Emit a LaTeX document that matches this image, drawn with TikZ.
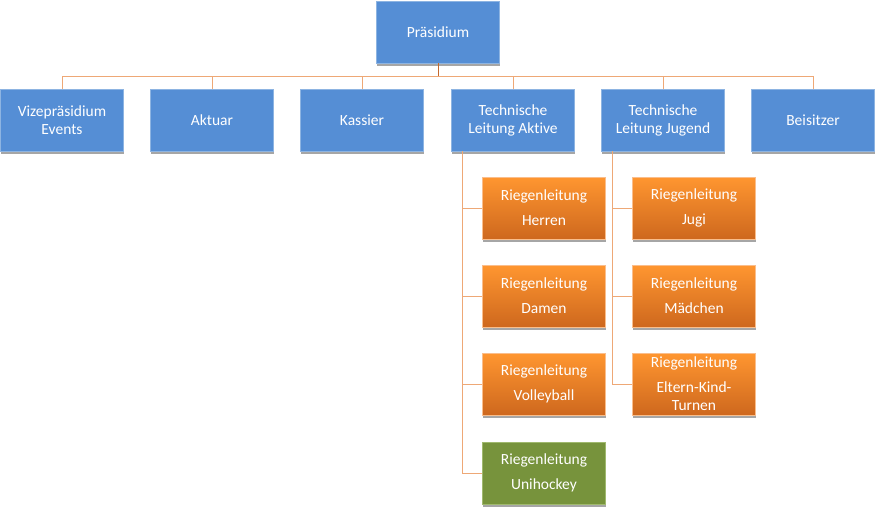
\documentclass[tikz,border=0pt]{standalone}
\usepackage{fontspec}
\setmainfont{Carlito}[Ligatures=NoCommon]
\usetikzlibrary{shadows}

\definecolor{kastenblau}{RGB}{85,142,213}
\definecolor{randblau}{RGB}{141,180,226}
\definecolor{orangeoben}{RGB}{255,150,48}
\definecolor{orangeunten}{RGB}{206,104,30}
\definecolor{randorange}{RGB}{250,190,140}
\definecolor{gruen}{RGB}{119,147,60}
\definecolor{randgruen}{RGB}{160,185,110}
\definecolor{linie}{RGB}{238,168,118}
\definecolor{liniedunkel}{RGB}{196,104,44}

\tikzset{
  kasten/.style={rectangle, minimum width=123pt, minimum height=62pt, inner sep=0pt,
    text=white, align=center, font=\fontsize{15.5}{18}\selectfont,
    drop shadow={shadow xshift=0pt, shadow yshift=-2.5pt, fill=black!35, opacity=1}},
  blau/.style={kasten, fill=kastenblau, draw=randblau, line width=0.8pt},
  riege/.style={kasten, top color=orangeoben, bottom color=orangeunten, draw=randorange, line width=0.8pt},
  riegegruen/.style={kasten, fill=gruen, draw=randgruen, line width=0.8pt},
  ast/.style={draw=linie, line width=0.9pt},
}

\begin{document}
\begin{tikzpicture}[x=1pt, y=-1pt]

  %% ════ Kästen ════
  \node[blau] (praes)     at (438,32)  {Präsidium};
  \node[blau] (vize)      at (62,120)  {Vizepräsidium\\Events};
  \node[blau] (aktuar)    at (212,120) {Aktuar};
  \node[blau] (kassier)   at (362,120) {Kassier};
  \node[blau] (taktiv)    at (513,120) {Technische\\Leitung Aktive};
  \node[blau] (tjugend)   at (663,120) {Technische\\Leitung Jugend};
  \node[blau] (beisitzer) at (813,120) {Beisitzer};

  %% Riegen Aktive
  \node[riege]      (herren)    at (544,208) {Riegenleitung\\[7pt]Herren};
  \node[riege]      (damen)     at (544,296) {Riegenleitung\\[7pt]Damen};
  \node[riege]      (volley)    at (544,384) {Riegenleitung\\[7pt]Volleyball};
  \node[riegegruen] (unihockey) at (544,473) {Riegenleitung\\[7pt]Unihockey};

  %% Riegen Jugend
  \node[riege] (jugi)     at (694,208) {Riegenleitung\\[7pt]Jugi};
  \node[riege] (maedchen) at (694,296) {Riegenleitung\\[7pt]Mädchen};
  \node[riege] (eki)      at (694,384) {Riegenleitung\\[7pt]Eltern-Kind-\\Turnen};

  %% ════ Verbindungen ════
  \coordinate (bus) at (438,76);
  \draw[draw=liniedunkel, line width=0.9pt] (praes.south) -- (bus);
  \foreach \k in {vize,aktuar,kassier,taktiv,tjugend,beisitzer}
    \draw[ast] (\k.north) |- (bus);

  %% Äste unter den technischen Leitungen
  \foreach \r in {herren,damen,volley,unihockey}
    \draw[ast] (taktiv.south west) ++(11,0) |- (\r.west);
  \foreach \r in {jugi,maedchen,eki}
    \draw[ast] (tjugend.south west) ++(11,0) |- (\r.west);

  % Leinwand festlegen
  \pgfresetboundingbox
  \path[use as bounding box] (0,0) rectangle (876,507);
\end{tikzpicture}
\end{document}
